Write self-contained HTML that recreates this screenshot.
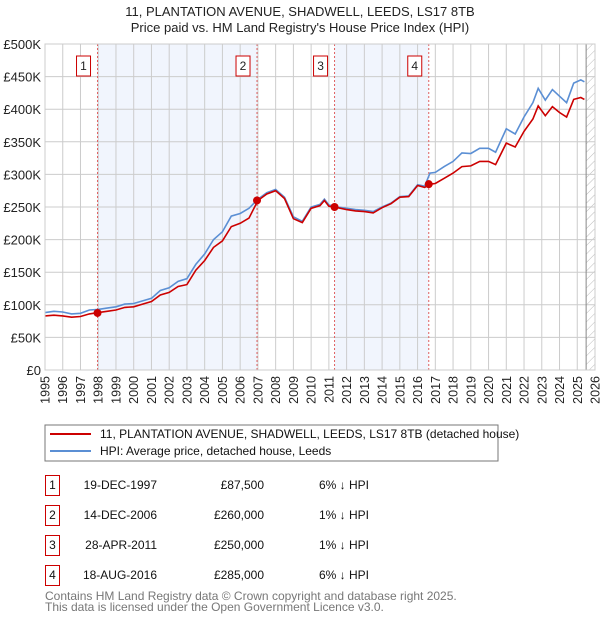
<!DOCTYPE html>
<html><head><meta charset="utf-8"><style>
body{margin:0;background:#fff;}
svg{display:block;font-family:"Liberation Sans","DejaVu Sans",sans-serif;}
</style></head><body>
<svg id="c" width="600" height="620" xmlns="http://www.w3.org/2000/svg">
<defs><pattern id="hatch" width="6" height="6" patternUnits="userSpaceOnUse" patternTransform="rotate(45)"><line x1="0" y1="0" x2="0" y2="6" stroke="#bbb" stroke-width="1"/></pattern></defs>
<text x="300" y="16" text-anchor="middle" font-size="13" fill="#222">11, PLANTATION AVENUE, SHADWELL, LEEDS, LS17 8TB</text>
<text x="300" y="32" text-anchor="middle" font-size="13" fill="#222">Price paid vs. HM Land Registry's House Price Index (HPI)</text>
<g id="plot"></g>
<g>
<rect x="45" y="425" width="453" height="36" fill="#fff" stroke="#777"/>
<line x1="50" y1="434" x2="91" y2="434" stroke="#cc0000" stroke-width="2"/>
<text x="100" y="438" font-size="12" fill="#111">11, PLANTATION AVENUE, SHADWELL, LEEDS, LS17 8TB (detached house)</text>
<line x1="50" y1="451" x2="91" y2="451" stroke="#5b8fd4" stroke-width="2"/>
<text x="100" y="455" font-size="12" fill="#111">HPI: Average price, detached house, Leeds</text>
</g>
<g id="table" font-size="12" fill="#111"></g>
<text x="45" y="600" font-size="12" fill="#777">Contains HM Land Registry data © Crown copyright and database right 2025.</text>
<text x="45" y="611" font-size="12" fill="#777">This data is licensed under the Open Government Licence v3.0.</text>
</svg>
<script>
const dates=[1995.0,1995.5,1996.0,1996.5,1997.0,1997.5,1998.0,1998.5,1999.0,1999.5,2000.0,2000.5,2001.0,2001.5,2002.0,2002.5,2003.0,2003.5,2004.0,2004.5,2005.0,2005.5,2006.0,2006.5,2007.0,2007.5,2008.0,2008.5,2009.0,2009.5,2010.0,2010.5,2010.75,2011.0,2011.5,2012.0,2012.5,2013.0,2013.5,2014.0,2014.5,2015.0,2015.5,2016.0,2016.4,2016.7,2017.0,2017.5,2018.0,2018.5,2019.0,2019.5,2020.0,2020.4,2021.0,2021.5,2022.0,2022.5,2022.8,2023.2,2023.6,2024.0,2024.4,2024.8,2025.2,2025.4];
const hpiValues=[88,90,89,86,87,92,93,95,97,101,102,106,110,122,126,136,140,162,178,200,212,236,240,248,262,272,277,265,235,228,250,254,262,253,250,248,246,245,243,250,256,266,267,284,282,302,303,312,320,333,332,340,340,334,370,362,388,410,432,414,430,420,410,440,445,442];
const priceValues=[83,84,83,81,82,86,88,90,92,96,97,101,105,115,119,128,131,153,168,188,198,220,225,233,260,270,275,263,232,226,248,252,260,251,249,246,244,243,241,249,255,265,266,283,280,285,286,294,302,312,313,320,320,315,348,342,366,385,405,390,404,395,388,415,418,415];
const saleDates=[1997.96,2006.95,2011.32,2016.63];
const salePrices=[87.5,260,250,285];
const saleLabels=["1","2","3","4"];
const saleDateText=["19-DEC-1997","14-DEC-2006","28-APR-2011","18-AUG-2016"];
const salePriceText=["£87,500","£260,000","£250,000","£285,000"];
const saleDiffText=["6% ↓ HPI","1% ↓ HPI","1% ↓ HPI","6% ↓ HPI"];
const yTicks=[0,50,100,150,200,250,300,350,400,450,500];
const yTickLabels=["£0","£50K","£100K","£150K","£200K","£250K","£300K","£350K","£400K","£450K","£500K"];
const xTicks=[1995,1996,1997,1998,1999,2000,2001,2002,2003,2004,2005,2006,2007,2008,2009,2010,2011,2012,2013,2014,2015,2016,2017,2018,2019,2020,2021,2022,2023,2024,2025,2026];

const NS="http://www.w3.org/2000/svg";
const X0=45,X1=595,Y0=370,Y1=44;
const x=d=>X0+(d-1995)/(2026-1995)*(X1-X0);
const y=v=>Y0-v/500*(Y0-Y1);
const plot=document.getElementById('plot');
function mk(tag,attrs,parent){const e=document.createElementNS(NS,tag);for(const k in attrs)e.setAttribute(k,attrs[k]);(parent||plot).appendChild(e);return e;}

for(let i=0;i<saleDates.length;i+=2){
  const r=mk('rect',{x:x(saleDates[i]),y:Y1,width:x(saleDates[i+1])-x(saleDates[i]),height:Y0-Y1,fill:'#eef3fc',opacity:0.8});
  
  
}
const h=mk('rect',{x:x(2025.5),y:Y1,width:X1-x(2025.5),height:Y0-Y1,fill:'url(#hatch)'});


yTicks.forEach((t,i)=>{
  mk('line',{x1:X0,x2:X1,y1:y(t),y2:y(t),stroke:'#ccc','stroke-width':1});
  const tx=mk('text',{x:X0-4,y:y(t)+5,'text-anchor':'end','font-size':13,fill:'#222'});
  tx.textContent=yTickLabels[i];
  
  
});
xTicks.forEach(t=>{
  mk('line',{x1:x(t),x2:x(t),y1:Y1,y2:Y0,stroke:'#ccc','stroke-width':1});
  const tx=mk('text',{x:x(t)+4.5,y:376,'text-anchor':'end','font-size':12.5,fill:'#222',transform:`rotate(-90 ${x(t)+4.5} 376)`});
  tx.textContent=t;
  
  
});
mk('line',{x1:x(2025.5),x2:x(2025.5),y1:Y1,y2:Y0,stroke:'#888','stroke-width':1});
saleDates.forEach((d,i)=>{
  mk('line',{x1:x(d),x2:x(d),y1:Y1,y2:Y0,stroke:'#e06060','stroke-width':1,'stroke-dasharray':'2,2'});
  const g=mk('g',{});
  
  
  mk('rect',{x:x(d)-21,y:56,width:14,height:20,fill:'#fff',stroke:'#cc0000'},g);
  const t=mk('text',{x:x(d)-14,y:70,'text-anchor':'middle','font-size':12,fill:'#222'},g);
  t.textContent=saleLabels[i];
});
const path=vals=>dates.map((d,i)=>(i?'L':'M')+x(d).toFixed(1)+','+y(vals[i]).toFixed(1)).join('');
const hp=mk('path',{d:path(hpiValues),fill:'none',stroke:'#5b8fd4','stroke-width':1.6});


const pp=mk('path',{d:path(priceValues),fill:'none',stroke:'#cc0000','stroke-width':1.6});


saleDates.forEach((d,i)=>{
  const c=mk('circle',{cx:x(d),cy:y(salePrices[i]),r:4,fill:'#cc0000'});
  
  
});
mk('rect',{x:X0,y:Y1,width:X1-X0,height:Y0-Y1,fill:'none',stroke:'#ccc'});
const tb=document.getElementById('table');
saleDates.forEach((d,i)=>{
  const ry=475+i*30;
  const g=mk('g',{},tb);
  
  
  mk('rect',{x:45.5,y:ry+0.5,width:14,height:20,fill:'#fff',stroke:'#cc0000'},g);
  const a=mk('text',{x:52.5,y:ry+14,'text-anchor':'middle'},g);a.textContent=saleLabels[i];
  const b=mk('text',{x:157,y:ry+14,'text-anchor':'end'},g);b.textContent=saleDateText[i];
  const c=mk('text',{x:264,y:ry+14,'text-anchor':'end'},g);c.textContent=salePriceText[i];
  const e=mk('text',{x:319,y:ry+14},g);e.textContent=saleDiffText[i];
});
</script>
</body></html>
